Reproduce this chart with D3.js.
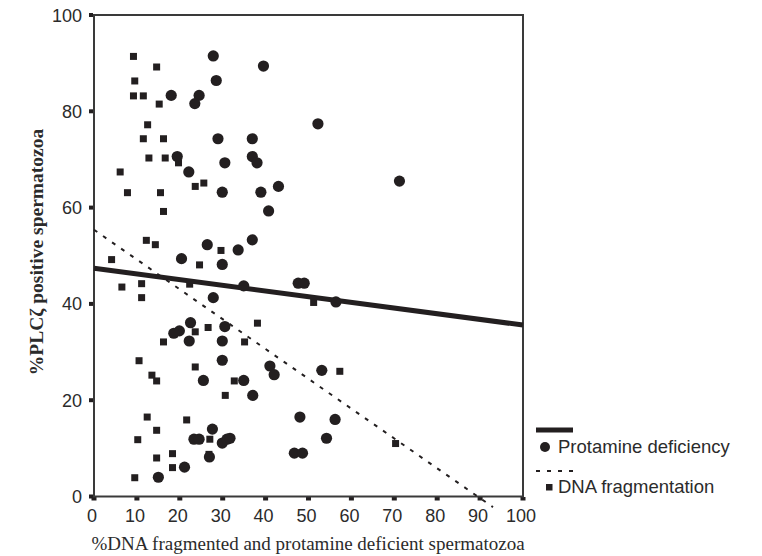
<!DOCTYPE html>
<html><head><meta charset="utf-8">
<script src="https://cdn.jsdelivr.net/npm/d3@7"></script>
<style>
html,body{margin:0;padding:0;background:#fff;}
svg{display:block;}
</style></head>
<body>
<svg id="chart" width="762" height="556"></svg>
<script>
// ---- data ----
const protamineX = [27.8,39.5,28.5,18.0,24.5,23.5,52.2,28.9,36.9,19.4,36.9,38.0,30.5,22.1,71.2,29.9,38.9,43.0,40.7,26.4,36.9,33.6,20.4,29.9,34.9,47.6,49.0,56.4,27.8,22.5,30.5,19.9,18.6,22.2,29.9,29.9,25.5,34.9,37.0,41.0,42.0,53.1,27.6,26.9,23.3,24.5,29.9,31.0,31.7,21.1,15.0,48.0,46.7,48.6,56.2,54.2];
const protamineY = [91.5,89.4,86.4,83.3,83.3,81.6,77.4,74.3,74.3,70.6,70.6,69.3,69.3,67.4,65.5,63.2,63.2,64.4,59.3,52.3,53.3,51.2,49.4,48.2,43.75,44.3,44.3,40.4,41.3,36.1,35.3,34.4,33.9,32.3,32.3,28.3,24.1,24.1,21.0,27.1,25.3,26.2,14.0,8.2,11.9,11.9,11.1,11.9,12.1,6.1,4.0,16.5,9.0,9.0,16.0,12.1];
const dnaX = [9.2,14.6,9.5,9.2,11.5,15.2,12.5,11.5,16.2,12.8,16.6,19.7,6.1,7.8,15.5,23.6,25.6,16.2,12.2,14.3,29.6,4.1,24.6,6.5,11.1,22.3,11.1,51.2,26.6,23.6,38.1,16.2,35.1,10.5,23.6,13.5,14.6,32.7,30.6,12.4,21.6,10.2,14.6,27.0,14.6,18.3,18.3,9.5,26.8,57.3,70.3];
const dnaY = [91.4,89.2,86.3,83.2,83.2,81.5,77.2,74.3,74.3,70.3,70.3,69.3,67.4,63.1,63.1,64.4,65.1,59.2,53.2,52.3,51.1,49.2,48.1,43.5,44.2,44.1,41.3,40.3,35.1,34.2,36.0,32.1,32.1,28.2,26.9,25.2,24.0,24.0,21.0,16.5,15.9,11.8,13.75,11.9,8.0,8.9,6.0,3.9,8.75,26.0,11.0];
// fitted lines (end points)
const protamineFitX = [0, 100];
const protamineFitY = [47.4, 35.6];
const dnaFitX = [0, 93];
const dnaFitY = [55.4, -2.2];
const xTicks = [0,10,20,30,40,50,60,70,80,90,100];
const yTicks = [0,20,40,60,80,100];
const seriesNames = ["Protamine deficiency", "DNA fragmentation"];
const xTitle = "%DNA fragmented and protamine deficient spermatozoa";
const yTitle = "%PLC\u03B6 positive spermatozoa";

// ---- drawing ----
const svg = d3.select("#chart");
const ink = "#231f20";
const axisCol = "#3a3a3a";
const textCol = "#2b2b2b";
const x = d3.scaleLinear().domain([0,100]).range([94,523]);
const y = d3.scaleLinear().domain([0,100]).range([496.5,15]);

// ticks
svg.append("g").selectAll("rect").data(xTicks).join("rect")
  .attr("x", d => x(d)-2.5).attr("y", 497).attr("width", 5).attr("height", 3.5).attr("fill", ink);
svg.append("g").selectAll("rect").data(yTicks).join("rect")
  .attr("x", 89).attr("y", d => y(d)-2).attr("width", 4).attr("height", 4).attr("fill", ink);

// tick labels
svg.append("g").selectAll("text").data(xTicks).join("text")
  .attr("x", d => x(d)-2).attr("y", 522)
  .attr("text-anchor","middle")
  .attr("font-family","Liberation Sans, Arial, sans-serif").attr("font-size",18)
  .attr("fill", textCol).text(d => d);
svg.append("g").selectAll("text").data(yTicks).join("text")
  .attr("x", 82).attr("y", d => y(d)+6.5)
  .attr("text-anchor","end")
  .attr("font-family","Liberation Sans, Arial, sans-serif").attr("font-size",18)
  .attr("fill", textCol).text(d => d);

// frame
svg.append("rect").attr("x", x(0)).attr("y", y(100))
  .attr("width", x(100)-x(0)).attr("height", y(0)-y(100))
  .attr("fill","none").attr("stroke", axisCol).attr("stroke-width", 2);

// points
const dnaPts = dnaX.map((v,i) => ({x:v, y:dnaY[i]}));
const protPts = protamineX.map((v,i) => ({x:v, y:protamineY[i]}));
svg.append("g").selectAll("rect").data(dnaPts).join("rect")
  .attr("x", d => x(d.x)-3.5).attr("y", d => y(d.y)-3.5)
  .attr("width", 7).attr("height", 7).attr("fill", ink);
svg.append("g").selectAll("circle").data(protPts).join("circle")
  .attr("cx", d => x(d.x)).attr("cy", d => y(d.y)).attr("r", 5.6).attr("fill", ink);

// fit lines
const line = d3.line().x(d => x(d.x)).y(d => y(d.y));
svg.append("path").datum(dnaFitX.map((v,i)=>({x:v,y:dnaFitY[i]})))
  .attr("d", line).attr("fill","none").attr("stroke", ink)
  .attr("stroke-width", 2).attr("stroke-dasharray","4,7");
svg.append("path").datum(protamineFitX.map((v,i)=>({x:v,y:protamineFitY[i]})))
  .attr("d", line).attr("fill","none").attr("stroke", ink)
  .attr("stroke-width", 5);

// titles
svg.append("text").attr("x", 308).attr("y", 550).attr("text-anchor","middle")
  .attr("font-family","Liberation Serif, Times New Roman, serif").attr("font-size",19)
  .attr("fill", textCol).text(xTitle);
svg.append("text").attr("transform","translate(43,252) rotate(-90)").attr("text-anchor","middle")
  .attr("font-family","Liberation Serif, Times New Roman, serif").attr("font-size",19.5)
  .attr("font-weight","bold").attr("fill", textCol).text(yTitle);

// legend
const lg = svg.append("g");
lg.append("line").attr("x1",536).attr("x2",573).attr("y1",430).attr("y2",430)
  .attr("stroke", ink).attr("stroke-width",5);
lg.append("circle").attr("cx",545).attr("cy",447).attr("r",5).attr("fill", ink);
lg.append("text").attr("x",558).attr("y",453)
  .attr("font-family","Liberation Sans, Arial, sans-serif").attr("font-size",18.5)
  .attr("fill", textCol).text(seriesNames[0]);
lg.append("line").attr("x1",536).attr("x2",575).attr("y1",471).attr("y2",471)
  .attr("stroke", ink).attr("stroke-width",2).attr("stroke-dasharray","4,7");
lg.append("rect").attr("x",546).attr("y",484).attr("width",6.5).attr("height",6.5).attr("fill", ink);
lg.append("text").attr("x",558).attr("y",493)
  .attr("font-family","Liberation Sans, Arial, sans-serif").attr("font-size",18.5)
  .attr("fill", textCol).text(seriesNames[1]);
</script>
</body></html>
